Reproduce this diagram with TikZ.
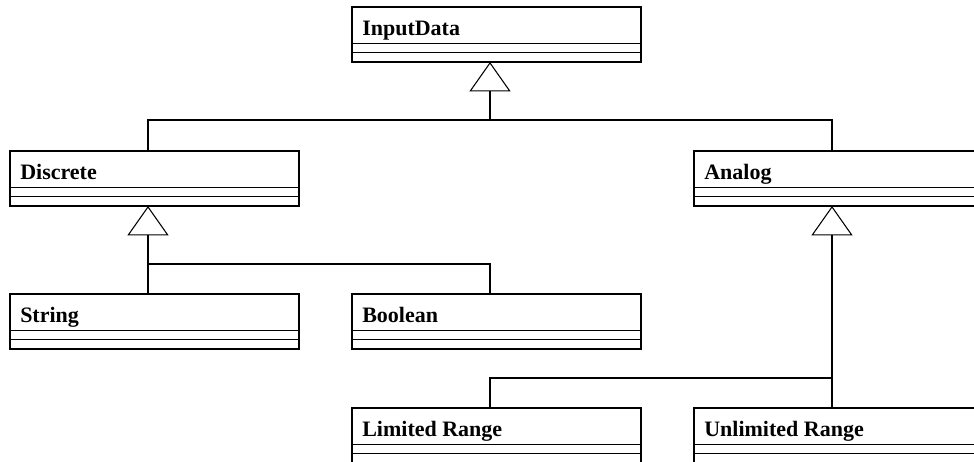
\documentclass[tikz,border=0pt]{standalone}
\usepackage{fontspec}
\setmainfont{Liberation Serif}
\usetikzlibrary{arrows.meta,calc}
\tikzset{
 classbox/.style={draw, line width=0.8pt, anchor=north west, minimum width=216.75pt, minimum height=41.25pt, inner sep=0pt, outer sep=0pt},
 classtitle/.style={anchor=base west, inner sep=0pt, font=\fontsize{16.5pt}{20pt}\selectfont\bfseries},
 link/.style={line width=0.8pt},
 gen/.style={link, -{Triangle[open, length=22pt, width=30.75pt]}},
}
\newcommand{\umlclass}[4]{%
 \node[classbox] (#1) at (#2,#3) {};
 \draw[link] ($(#1.north west)+(0,36.5)$) -- ($(#1.north east)+(0,36.5)$);
 \draw[link] ($(#1.north west)+(0,45.5)$) -- ($(#1.north east)+(0,45.5)$);
 \node[classtitle] (#1-t) at ($(#1.north west)+(10,28)$) {#4};
 \coordinate (#1-top) at ($(#1.north west)+(138,0)$);
 \coordinate (#1-bot) at ($(#1.south west)+(138,0)$);
}
\begin{document}
\begin{tikzpicture}[x=0.75pt,y=-0.75pt]
\useasboundingbox (0,0) rectangle (974,461);
\clip (0,0) rectangle (974,461);
\umlclass{InputData}{352}{7}{InputData}
\umlclass{Discrete}{10}{151}{Discrete}
\umlclass{Analog}{694}{151}{Analog}
\umlclass{String}{10}{294}{String}
\umlclass{Boolean}{352}{294}{Boolean}
\umlclass{Limited}{352}{408}{Limited Range}
\umlclass{Unlimited}{694}{408}{Unlimited Range}
\coordinate (j1) at ($(InputData-bot)+(0,58)$);
\draw[gen] (j1) -- (InputData-bot);
\draw[link] (Discrete-top) |- (j1) -| (Analog-top);
\coordinate (j2) at ($(String-top)+(0,-30)$);
\draw[gen] (String-top) -- (Discrete-bot);
\draw[link] (j2) -| (Boolean-top);
\coordinate (j3) at ($(Unlimited-top)+(0,-30)$);
\draw[gen] (Unlimited-top) -- (Analog-bot);
\draw[link] (j3) -| (Limited-top);
\end{tikzpicture}
\end{document}
